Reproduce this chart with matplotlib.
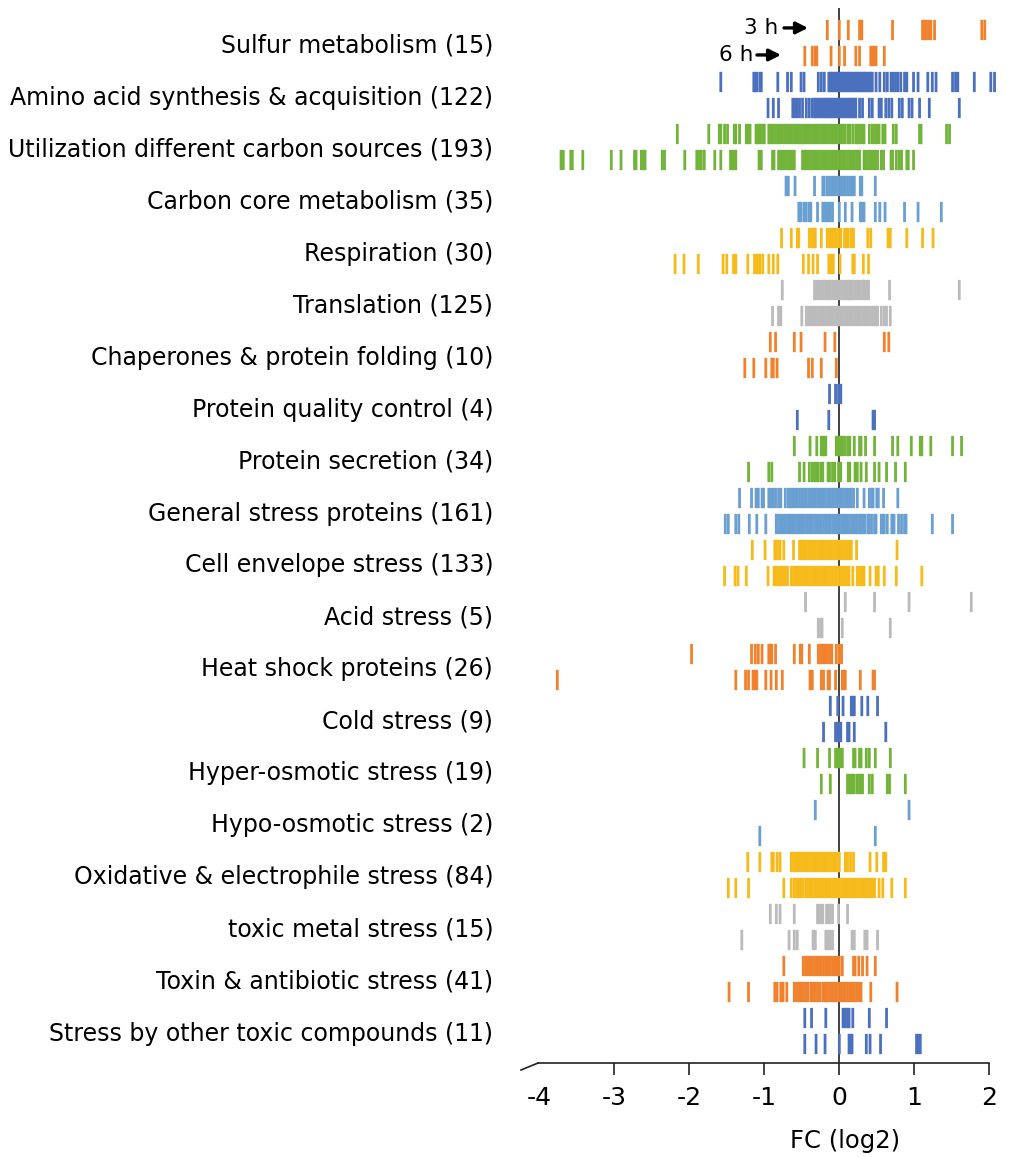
import matplotlib
matplotlib.use("Agg")
import matplotlib.pyplot as plt

plt.rcParams['font.family'] = ['DejaVu Sans']

categories = [
    "Sulfur metabolism (15)",
    "Amino acid synthesis & acquisition (122)",
    "Utilization different carbon sources (193)",
    "Carbon core metabolism (35)",
    "Respiration (30)",
    "Translation (125)",
    "Chaperones & protein folding (10)",
    "Protein quality control (4)",
    "Protein secretion (34)",
    "General stress proteins (161)",
    "Cell envelope stress (133)",
    "Acid stress (5)",
    "Heat shock proteins (26)",
    "Cold stress (9)",
    "Hyper-osmotic stress (19)",
    "Hypo-osmotic stress (2)",
    "Oxidative & electrophile stress (84)",
    "toxic metal stress (15)",
    "Toxin & antibiotic stress (41)",
    "Stress by other toxic compounds (11)",
]

# log2 fold changes, 3 h and 6 h, one list per category
fc_3h = [
    [-0.16, 0.0, 0.12, 0.27, 0.29, 0.30, 0.71, 1.11, 1.14, 1.16, 1.19, 1.22, 1.27, 1.90, 1.94],
    [-1.58, -1.14, -1.12, -1.10, -1.06, -1.04, -0.82, -0.69, -0.64, -0.51, -0.47, -0.28, -0.24, -0.20,
     -0.14, -0.12, -0.10, -0.08, -0.06, -0.04, -0.02, 0.0, 0.02, 0.04, 0.06, 0.08, 0.10, 0.12, 0.14,
     0.16, 0.18, 0.20, 0.22, 0.24, 0.26, 0.28, 0.30, 0.32, 0.34, 0.36, 0.38, 0.40, 0.42, 0.44,
     0.49, 0.54, 0.60, 0.64, 0.69, 0.72, 0.75, 0.78, 0.82, 0.87, 0.90, 0.99, 1.05, 1.18, 1.24, 1.29,
     1.51, 1.55, 1.58, 1.80, 2.02, 2.07],
    [-2.16, -1.74, -1.60, -1.58, -1.53, -1.49, -1.40, -1.38, -1.33, -1.24, -1.22, -1.19, -1.11, -1.09,
     -1.07, -1.05, -1.02, -1.00, -0.94, -0.91, -0.88, -0.85, -0.82, -0.79, -0.76, -0.73, -0.70, -0.67,
     -0.64, -0.61, -0.58, -0.55, -0.52, -0.49, -0.46, -0.43, -0.40, -0.37, -0.34, -0.31, -0.28, -0.25,
     -0.22, -0.19, -0.16, -0.13, -0.10, -0.07, -0.04, -0.01, 0.02, 0.05, 0.08, 0.12, 0.14, 0.18, 0.22,
     0.24, 0.27, 0.30, 0.33, 0.40, 0.44, 0.47, 0.50, 0.53, 0.58, 0.61, 0.72, 0.76, 1.07, 1.09, 1.43, 1.47],
    [-0.71, -0.68, -0.59, -0.33, -0.22, -0.20, -0.16, -0.13, -0.10, -0.07, -0.04, -0.01, 0.02, 0.05,
     0.08, 0.11, 0.14, 0.17, 0.20, 0.28, 0.30, 0.48],
    [-0.77, -0.64, -0.56, -0.54, -0.40, -0.37, -0.34, -0.32, -0.24, -0.16, -0.13, -0.10, -0.07, -0.04,
     -0.01, 0.02, 0.07, 0.09, 0.12, 0.16, 0.19, 0.38, 0.42, 0.65, 0.68, 0.90, 1.11, 1.25],
    [-0.76, -0.33, -0.30, -0.27, -0.24, -0.21, -0.18, -0.15, -0.12, -0.09, -0.06, -0.03, 0.0, 0.03,
     0.06, 0.09, 0.12, 0.13, 0.16, 0.19, 0.22, 0.25, 0.28, 0.31, 0.34, 0.37, 0.39, 0.67, 1.60],
    [-0.92, -0.85, -0.60, -0.51, -0.19, -0.06, 0.60, 0.66],
    [-0.13, -0.05, -0.01, 0.02],
    [-0.60, -0.39, -0.30, -0.24, -0.22, -0.20, -0.18, -0.04, -0.02, 0.0, 0.02, 0.04, 0.07, 0.11, 0.14,
     0.20, 0.27, 0.29, 0.35, 0.47, 0.71, 0.78, 0.96, 1.08, 1.10, 1.22, 1.51, 1.63],
    [-1.33, -1.17, -1.11, -1.08, -1.03, -1.01, -0.94, -0.91, -0.88, -0.85, -0.81, -0.78, -0.72, -0.68,
     -0.65, -0.62, -0.59, -0.56, -0.53, -0.50, -0.47, -0.44, -0.41, -0.38, -0.35, -0.32, -0.29, -0.26,
     -0.23, -0.20, -0.17, -0.14, -0.11, -0.08, -0.05, -0.02, 0.01, 0.04, 0.07, 0.10, 0.13, 0.16, 0.19,
     0.24, 0.33, 0.40, 0.43, 0.45, 0.50, 0.52, 0.59, 0.78],
    [-1.16, -0.99, -0.86, -0.84, -0.81, -0.79, -0.74, -0.61, -0.53, -0.51, -0.49, -0.47, -0.44, -0.41,
     -0.38, -0.35, -0.32, -0.29, -0.26, -0.23, -0.20, -0.17, -0.14, -0.11, -0.08, -0.05, -0.02, 0.01,
     0.04, 0.07, 0.10, 0.13, 0.16, 0.23, 0.77],
    [-0.45, 0.08, 0.47, 0.93, 1.76],
    [-1.97, -1.17, -1.12, -1.08, -1.03, -0.94, -0.92, -0.90, -0.85, -0.60, -0.52, -0.50, -0.40, -0.28,
     -0.25, -0.22, -0.19, -0.16, -0.13, -0.10, -0.04, 0.0, 0.03],
    [-0.12, -0.02, 0.05, 0.16, 0.18, 0.20, 0.30, 0.38, 0.51],
    [-0.47, -0.29, -0.13, -0.05, -0.03, -0.01, 0.01, 0.04, 0.19, 0.21, 0.27, 0.29, 0.36, 0.40, 0.48, 0.68],
    [-0.32, 0.93],
    [-1.22, -1.06, -0.90, -0.88, -0.83, -0.79, -0.64, -0.61, -0.58, -0.55, -0.52, -0.49, -0.46, -0.43,
     -0.40, -0.37, -0.34, -0.31, -0.28, -0.25, -0.22, -0.19, -0.16, -0.13, -0.10, -0.07, -0.04, -0.01,
     0.0, 0.08, 0.11, 0.15, 0.19, 0.41, 0.50, 0.59, 0.62],
    [-0.92, -0.84, -0.79, -0.60, -0.29, -0.27, -0.24, -0.22, -0.17, -0.14, -0.12, -0.09, -0.01, 0.11],
    [-0.74, -0.48, -0.45, -0.42, -0.39, -0.36, -0.33, -0.30, -0.27, -0.24, -0.21, -0.18, -0.15, -0.12,
     -0.09, -0.06, -0.03, 0.0, 0.04, 0.19, 0.21, 0.26, 0.31, 0.37, 0.48],
    [-0.46, -0.37, -0.18, 0.05, 0.08, 0.11, 0.13, 0.18, 0.40, 0.63],
]

fc_6h = [
    [-0.46, -0.36, -0.32, -0.30, -0.11, 0.0, 0.07, 0.22, 0.27, 0.42, 0.44, 0.46, 0.49, 0.60],
    [-0.95, -0.88, -0.81, -0.62, -0.59, -0.56, -0.53, -0.49, -0.44, -0.40, -0.36, -0.33, -0.31, -0.29,
     -0.27, -0.25, -0.23, -0.21, -0.19, -0.17, -0.15, -0.13, -0.11, -0.09, -0.07, -0.05, -0.03, -0.01,
     0.01, 0.03, 0.05, 0.07, 0.09, 0.11, 0.13, 0.15, 0.17, 0.19, 0.21, 0.22, 0.27, 0.31, 0.40, 0.44,
     0.53, 0.56, 0.62, 0.66, 0.70, 0.80, 0.84, 0.93, 0.97, 1.07, 1.20, 1.60],
    [-3.71, -3.68, -3.58, -3.56, -3.42, -3.04, -2.91, -2.73, -2.71, -2.64, -2.61, -2.59, -2.36, -2.33,
     -2.06, -1.90, -1.87, -1.84, -1.80, -1.66, -1.58, -1.45, -1.43, -1.40, -1.38, -1.07, -1.04, -0.89,
     -0.87, -0.81, -0.78, -0.75, -0.72, -0.69, -0.66, -0.63, -0.60, -0.49, -0.46, -0.43, -0.40, -0.37,
     -0.34, -0.31, -0.28, -0.25, -0.22, -0.19, -0.16, -0.13, -0.10, -0.07, -0.04, -0.01, 0.02, 0.05,
     0.08, 0.11, 0.14, 0.17, 0.20, 0.23, 0.26, 0.27, 0.33, 0.36, 0.39, 0.42, 0.45, 0.48, 0.51, 0.56,
     0.59, 0.69, 0.71, 0.76, 0.80, 0.83, 0.90, 0.92, 0.99],
    [-0.54, -0.51, -0.47, -0.44, -0.40, -0.38, -0.29, -0.22, -0.20, -0.18, -0.15, -0.12, -0.09, 0.0,
     0.08, 0.17, 0.28, 0.30, 0.33, 0.48, 0.54, 0.61, 0.87, 1.05, 1.36],
    [-2.19, -2.07, -1.88, -1.55, -1.50, -1.41, -1.38, -1.22, -1.13, -1.11, -1.08, -1.06, -1.02, -0.94,
     -0.88, -0.82, -0.48, -0.41, -0.35, -0.29, -0.14, -0.11, -0.08, 0.01, 0.18, 0.20, 0.32, 0.39],
    [-0.89, -0.81, -0.78, -0.50, -0.44, -0.41, -0.38, -0.35, -0.32, -0.29, -0.26, -0.23, -0.20, -0.17,
     -0.14, -0.11, -0.08, -0.05, -0.02, 0.01, 0.04, 0.07, 0.10, 0.13, 0.16, 0.19, 0.22, 0.25, 0.28,
     0.31, 0.34, 0.37, 0.40, 0.43, 0.46, 0.49, 0.51, 0.56, 0.60, 0.63, 0.68],
    [-1.26, -1.14, -0.98, -0.90, -0.88, -0.83, -0.41, -0.36, -0.24, -0.04],
    [-0.56, -0.14, 0.45, 0.47],
    [-1.21, -0.94, -0.90, -0.53, -0.47, -0.40, -0.36, -0.33, -0.30, -0.28, -0.24, -0.22, -0.15, -0.13,
     -0.09, -0.06, -0.01, 0.02, 0.12, 0.14, 0.21, 0.24, 0.29, 0.36, 0.47, 0.53, 0.63, 0.75, 0.88],
    [-1.52, -1.48, -1.38, -1.34, -1.20, -1.10, -0.98, -0.84, -0.81, -0.78, -0.75, -0.72, -0.69, -0.66,
     -0.63, -0.60, -0.57, -0.54, -0.51, -0.48, -0.45, -0.42, -0.39, -0.36, -0.33, -0.30, -0.27, -0.24,
     -0.21, -0.18, -0.15, -0.12, -0.09, -0.06, -0.03, 0.0, 0.03, 0.06, 0.09, 0.12, 0.15, 0.18, 0.21,
     0.24, 0.27, 0.29, 0.32, 0.34, 0.38, 0.40, 0.43, 0.47, 0.49, 0.56, 0.58, 0.60, 0.64, 0.70, 0.73,
     0.79, 0.83, 0.87, 0.89, 1.24, 1.51],
    [-1.53, -1.39, -1.35, -1.24, -0.95, -0.87, -0.84, -0.81, -0.78, -0.75, -0.72, -0.69, -0.64, -0.61,
     -0.58, -0.55, -0.52, -0.49, -0.46, -0.43, -0.40, -0.37, -0.34, -0.31, -0.28, -0.25, -0.22, -0.19,
     -0.16, -0.13, -0.10, -0.07, -0.04, -0.01, 0.02, 0.05, 0.08, 0.11, 0.13, 0.18, 0.24, 0.27, 0.30,
     0.33, 0.41, 0.49, 0.52, 0.60, 0.76, 1.10],
    [-0.28, -0.25, -0.23, 0.04, 0.68],
    [-3.76, -1.38, -1.25, -1.21, -1.15, -1.12, -1.10, -0.98, -0.91, -0.84, -0.76, -0.39, -0.36, -0.24,
     -0.21, -0.15, -0.13, -0.05, 0.04, 0.06, 0.08, 0.28, 0.45, 0.47],
    [-0.21, -0.05, -0.02, 0.0, 0.02, 0.11, 0.13, 0.20, 0.62],
    [-0.24, -0.12, 0.11, 0.13, 0.16, 0.18, 0.20, 0.24, 0.27, 0.29, 0.31, 0.40, 0.44, 0.64, 0.67, 0.88],
    [-1.06, 0.48],
    [-1.48, -1.38, -1.21, -0.74, -0.64, -0.60, -0.57, -0.54, -0.51, -0.49, -0.45, -0.42, -0.39, -0.36,
     -0.33, -0.30, -0.27, -0.24, -0.21, -0.18, -0.15, -0.12, -0.09, -0.06, -0.03, 0.0, 0.03, 0.06, 0.09,
     0.12, 0.15, 0.18, 0.21, 0.24, 0.27, 0.30, 0.33, 0.36, 0.39, 0.42, 0.45, 0.47, 0.53, 0.58, 0.70, 0.88],
    [-1.30, -0.67, -0.60, -0.56, -0.35, -0.32, -0.18, -0.15, -0.12, -0.09, 0.17, 0.20, 0.34, 0.37, 0.51],
    [-1.47, -1.21, -0.86, -0.83, -0.78, -0.75, -0.70, -0.60, -0.57, -0.54, -0.51, -0.48, -0.45, -0.42,
     -0.38, -0.35, -0.32, -0.29, -0.26, -0.22, -0.19, -0.16, -0.13, -0.10, -0.07, -0.04, -0.01, 0.02,
     0.05, 0.08, 0.11, 0.14, 0.17, 0.20, 0.23, 0.26, 0.29, 0.42, 0.77],
    [-0.46, -0.31, -0.19, 0.0, 0.13, 0.15, 0.17, 0.36, 0.41, 0.55, 1.03, 1.05, 1.08],
]

palette = ['#F0822D', '#4A70BE', '#72B33A', '#6A9FD1', '#F6BB1A', '#BBBBBB']
x_ticks = [-4, -3, -2, -1, 0, 1, 2]
x_ticklabels = ['-4', '-3', '-2', '-1', '0', '1', '2']

W, H = 1027, 1157
fig = plt.figure(figsize=(W / 100, H / 100), dpi=100)
ax_l, ax_r, ax_t, ax_b = 521, 1000, 8, 1063
ax = fig.add_axes([ax_l / W, (H - ax_b) / H, (ax_r - ax_l) / W, (ax_b - ax_t) / H])

x0_px, px_per_unit = 839.3, 75.0
row0_px, px_per_row = 30.0, 26.0
ax.set_xlim((ax_l - x0_px) / px_per_unit, (ax_r - x0_px) / px_per_unit)
ax.set_ylim((ax_b - row0_px) / px_per_row, (ax_t - row0_px) / px_per_row)

half = 0.39
for i, cat in enumerate(categories):
    col = palette[i % len(palette)]
    r3 = 2 * i
    r6 = 2 * i + 1
    lc3 = ax.vlines(fc_3h[i], r3 - half, r3 + half, colors=col, lw=2.0, zorder=3)
    lc6 = ax.vlines(fc_6h[i], r6 - half, r6 + half, colors=col, lw=2.0, zorder=3)
    lc3.set_snap(False)
    lc6.set_snap(False)

ax.axvline(0, color='#333333', lw=1.3, zorder=1)

# spines / axis
for s in ['top', 'right', 'left']:
    ax.spines[s].set_visible(False)
ax.spines['bottom'].set_bounds(-4.017, 2.0)
ax.spines['bottom'].set_linewidth(1.2)
ax.spines['bottom'].set_color('#222222')
ax.set_xticks(x_ticks)
ax.set_xticklabels(x_ticklabels)
ax.tick_params(axis='x', direction='out', length=8.6, width=1.2, color='#222222',
               pad=8, labelsize=18)
ax.xaxis.get_major_ticks()[0].tick1line.set_visible(False)
# axis break stroke
ax.plot([(521 - x0_px) / px_per_unit, -4.017], [(1070 - row0_px) / px_per_row, (ax_b - row0_px) / px_per_row],
        color='#222222', lw=1.2, clip_on=False)

ax.set_yticks([2 * i + 0.5 for i in range(len(categories))])
ax.set_yticklabels(categories)
ax.tick_params(axis='y', length=0, pad=20, labelsize=17.0)

ax.set_xlabel('FC (log2)', fontsize=17.5)
ax.xaxis.set_label_coords((845 - ax_l) / (ax_r - ax_l), (ax_b - 1129) / (ax_b - ax_t))

# time annotations
ax.text((761 - x0_px) / px_per_unit, 0 - 0.08, '3 h', fontsize=15.5, ha='center', va='center')
ax.annotate('', xy=((808 - x0_px) / px_per_unit, -0.08), xytext=((784 - x0_px) / px_per_unit, -0.08),
            arrowprops=dict(arrowstyle='-|>,head_length=0.7,head_width=0.35', color='black', lw=2.4,
                            shrinkA=0, shrinkB=0))
ax.text((736 - x0_px) / px_per_unit, 0.96, '6 h', fontsize=15.5, ha='center', va='center')
ax.annotate('', xy=((781 - x0_px) / px_per_unit, 0.96), xytext=((757 - x0_px) / px_per_unit, 0.96),
            arrowprops=dict(arrowstyle='-|>,head_length=0.7,head_width=0.35', color='black', lw=2.4,
                            shrinkA=0, shrinkB=0))

fig.savefig('out.png', dpi=100)
